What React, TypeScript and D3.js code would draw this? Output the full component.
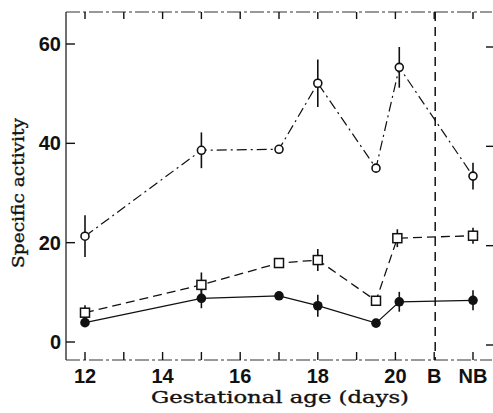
import React from "react";
import * as d3 from "d3";

// Positions on the x axis (days); B = 21, NB = 22
const openCircleX = [12, 15, 17, 18, 19.5, 20.1, 22];
const openCircleY = [21.3, 38.6, 38.8, 52.1, 35.0, 55.3, 33.4];
const openCircleErr = [4.2, 3.6, 0, 4.8, 0, 4.1, 2.7];

const squareX = [12, 15, 17, 18, 19.5, 20.05, 22];
const squareY = [5.9, 11.5, 15.9, 16.5, 8.3, 20.9, 21.4];
const squareErr = [1.5, 2.5, 0, 2.2, 0, 1.8, 1.6];

const filledX = [12, 15, 17, 18, 19.5, 20.1, 22];
const filledY = [3.9, 8.8, 9.3, 7.3, 3.8, 8.1, 8.4];
const filledErr = [0.6, 2.0, 0, 2.2, 0, 2.0, 2.0];

const xTicks = [12, 13, 14, 15, 16, 17, 18, 19, 20, 21, 22];
const xTickLabels: [number, string][] = [
  [12, "12"], [14, "14"], [16, "16"], [18, "18"], [20, "20"], [21, "B"], [22, "NB"],
];
const yTicks = [0, 20, 40, 60];
const birthX = 21;

const W = 493;
const H = 413;
const LEFT = 66;
const RIGHT = 492;
const TOP = 12;
const BOTTOM = 360;

export default function App() {
  const x = d3.scaleLinear().domain([12, 22]).range([85, 473]);
  const y = d3.scaleLinear().domain([0, 60]).range([342, 44]);

  const line = (xs: number[], ys: number[]) =>
    d3.line<number>().x((_, i) => x(xs[i])).y((v) => y(v))(ys) || "";

  const errBars = (xs: number[], ys: number[], es: number[]) =>
    ys.map((v, i) =>
      es[i] > 0 ? (
        <line key={i} x1={x(xs[i])} x2={x(xs[i])} y1={y(v - es[i])} y2={y(v + es[i])}
          stroke="#111" strokeWidth={1.6} />
      ) : null
    );

  const numFont = "'Liberation Sans', Arial, sans-serif";
  const serif = "'DejaVu Serif', 'Liberation Serif', serif";

  return (
    <svg width={W} height={H} style={{ position: "absolute", left: 0, top: 0, background: "#fff" }}>
      <rect x={0} y={0} width={W} height={H} fill="#fff" />
      {/* frame */}
      <line x1={LEFT} x2={LEFT} y1={TOP} y2={BOTTOM} stroke="#222" strokeWidth={1.3} />
      <line x1={LEFT} x2={RIGHT} y1={TOP} y2={TOP} stroke="#333" strokeWidth={1} strokeDasharray="14,3,3,3" />
      <line x1={LEFT} x2={RIGHT} y1={BOTTOM} y2={BOTTOM} stroke="#333" strokeWidth={1} strokeDasharray="14,3,3,3" />
      {/* x ticks */}
      {xTicks.map((t) => (
        <g key={t}>
          <line x1={x(t)} x2={x(t)} y1={BOTTOM} y2={BOTTOM - 8} stroke="#111" strokeWidth={1.4} />
          <line x1={x(t)} x2={x(t)} y1={TOP} y2={TOP + 7} stroke="#111" strokeWidth={1.4} />
        </g>
      ))}
      {xTickLabels.map(([t, s]) => (
        <text key={s} x={x(t)} y={383} textAnchor="middle" fontFamily={numFont}
          fontWeight="bold" fontSize={20} fill="#111">{s}</text>
      ))}
      {/* y ticks */}
      {yTicks.map((t) => (
        <g key={t}>
          <line x1={LEFT} x2={LEFT + 9} y1={y(t)} y2={y(t)} stroke="#111" strokeWidth={1.4} />
          <line x1={RIGHT - 6} x2={W} y1={y(t) + 3} y2={y(t) + 3} stroke="#111" strokeWidth={1.4} />
          <text x={61} y={y(t) + 7} textAnchor="end" fontFamily={numFont}
            fontWeight="bold" fontSize={20} fill="#111">{t}</text>
        </g>
      ))}
      {/* birth line */}
      <line x1={x(birthX) + 1} x2={x(birthX) + 1} y1={TOP} y2={BOTTOM} stroke="#111"
        strokeWidth={1.5} strokeDasharray="9,6" />
      {/* series lines */}
      <path d={line(openCircleX, openCircleY)} fill="none" stroke="#111" strokeWidth={1.2}
        strokeDasharray="10,4,2,4" />
      <path d={line(squareX, squareY)} fill="none" stroke="#111" strokeWidth={1.3}
        strokeDasharray="9,5" />
      <path d={line(filledX, filledY)} fill="none" stroke="#111" strokeWidth={1.3} />
      {/* error bars */}
      {errBars(openCircleX, openCircleY, openCircleErr)}
      {errBars(squareX, squareY, squareErr)}
      {errBars(filledX, filledY, filledErr)}
      {/* markers */}
      {openCircleY.map((v, i) => (
        <circle key={"o" + i} cx={x(openCircleX[i])} cy={y(v)} r={4} fill="#fff" stroke="#111" strokeWidth={1.6} />
      ))}
      {squareY.map((v, i) => (
        <rect key={"s" + i} x={x(squareX[i]) - 4.5} y={y(v) - 4.5} width={9} height={9}
          fill="#fff" stroke="#111" strokeWidth={1.5} />
      ))}
      {filledY.map((v, i) => (
        <circle key={"f" + i} cx={x(filledX[i])} cy={y(v)} r={4.8} fill="#111" />
      ))}
      {/* axis titles */}
      <text x={280} y={403} textAnchor="middle" fontFamily={serif} fontSize={17}
        textLength={258} lengthAdjust="spacingAndGlyphs" fill="#111" stroke="#111"
        strokeWidth={0.35}>Gestational age (days)</text>
      <text transform="translate(24,193) rotate(-90)" textAnchor="middle" fontFamily={serif}
        fontSize={17} textLength={150} lengthAdjust="spacingAndGlyphs" fill="#111" stroke="#111"
        strokeWidth={0.35}>Specific activity</text>
    </svg>
  );
}
